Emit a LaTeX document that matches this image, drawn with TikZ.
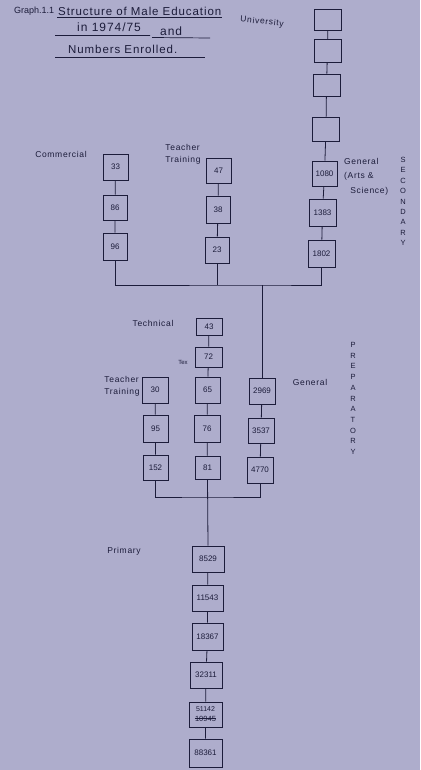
\documentclass[tikz,border=0pt]{standalone}
\usepackage{fontspec}
\setmainfont{Liberation Sans}
\newfontfamily\hand[LetterSpace=8]{Liberation Sans}
\definecolor{paper}{RGB}{174,173,204}
\definecolor{ink}{RGB}{28,28,58}
\tikzset{
  bx/.style={draw=ink, line width=0.9pt, inner sep=0pt, text=ink, font=\fontsize{8}{9}\selectfont},
  lnk/.style={draw=ink, line width=0.8pt},
  lbl/.style={text=ink, inner sep=0pt, font=\hand\fontsize{8.5}{12}\selectfont, align=left},
  ttl/.style={text=ink, inner sep=0pt, anchor=west, font=\hand\fontsize{11.5}{13}\selectfont},
  vlet/.style={text=ink, inner sep=0pt, font=\fontsize{7.5}{8}\selectfont},
}
\newcommand{\bxat}[5]{\node[bx, minimum width=#3pt, minimum height=#4pt] (#1) at (#2) {#5};}
\begin{document}
\begin{tikzpicture}[x=1pt,y=-1pt]
\fill[paper] (0,0) rectangle (420,770);
\useasboundingbox (0,0) rectangle (420,770);

% title
\node[ttl, font=\fontsize{9}{10}\selectfont] (tg) at (14,11) {Graph.1.1};
\node[ttl] (t1) at (58,11) {Structure of Male Education};
\node[ttl, font=\hand\fontsize{12}{14}\selectfont] (t2) at (77,27.5) {in 1974/75};
\node[ttl, font=\hand\fontsize{12}{14}\selectfont] (t3) at (160,31) {and};
\node[ttl] (t4) at (68,49.5) {Numbers Enrolled.};
\draw[ink, line width=0.7pt] (57,17.5) -- (222,17.5);
\draw[ink, line width=0.7pt] (55,35.5) -- (150,35.5) (152,37.5) -- (210,38);
\draw[ink, line width=0.7pt] (55,57) -- (205,57);

% University / General column
\bxat{u1}{328,20}{27}{21}{}
\bxat{u2}{327.5,51}{27}{23}{}
\bxat{u3}{326.5,85}{27}{22}{}
\bxat{u4}{326,129}{27}{24}{}
\bxat{g1}{324.5,173.5}{25}{25}{1080}
\bxat{g2}{322.5,212.5}{27}{27}{1383}
\bxat{g3}{321.5,253.5}{27}{27}{1802}
% Commercial
\bxat{c1}{115.5,167}{25}{26}{33}
\bxat{c2}{115,207.5}{24}{25}{86}
\bxat{c3}{115,246.5}{24}{27}{96}
% Teacher training (secondary)
\bxat{s1}{218.5,170.5}{25}{25}{47}
\bxat{s2}{218,209.5}{24}{27}{38}
\bxat{s3}{217,250}{24}{26}{23}
% Technical
\bxat{k1}{209,326.5}{26}{17}{43}
\bxat{k2}{208.5,357}{27}{20}{72}
\bxat{k3}{207.5,390}{25}{26}{65}
\bxat{k4}{207,428.5}{26}{27}{76}
\bxat{k5}{207.5,467.5}{25}{23}{81}
% Teacher training (preparatory)
\bxat{p1}{155,390}{26}{26}{30}
\bxat{p2}{155.5,428.5}{25}{27}{95}
\bxat{p3}{155.5,467.5}{25}{25}{152}
% General (preparatory)
\bxat{q1}{262,391}{26}{26}{2969}
\bxat{q2}{261,430.5}{26}{25}{3537}
\bxat{q3}{260,470}{26}{26}{4770}
% Primary
\bxat{r1}{208,559}{32}{26}{8529}
\bxat{r2}{207.5,598}{31}{26}{11543}
\bxat{r3}{207.5,636.5}{31}{27}{18367}
\bxat{r4}{206,675}{32}{26}{32311}
\bxat{r5}{205.5,714.5}{33}{25}{}
\bxat{r6}{205.5,753}{33}{28}{88361}
\node[text=ink, inner sep=0pt, font=\fontsize{7}{8}\selectfont] (r5a) at (205.5,709) {51142};
\node[text=ink, inner sep=0pt, font=\fontsize{7.5}{8}\selectfont] (r5b) at (205.5,718.5) {10945};
\draw[ink, line width=1.6pt] (r5b.west) -- (r5b.east);

% chains
\draw[lnk] (u1) -- (u2) -- (u3) -- (u4) -- (g1) -- (g2) -- (g3);
\draw[lnk] (c1) -- (c2) -- (c3);
\draw[lnk] (s1) -- (s2) -- (s3);
\draw[lnk] (k1) -- (k2) -- (k3) -- (k4) -- (k5);
\draw[lnk] (p1) -- (p2) -- (p3);
\draw[lnk] (q1) -- (q2) -- (q3);
\draw[lnk] (r1) -- (r2) -- (r3) -- (r4) -- (r5) -- (r6);

% junctions
\coordinate (j1) at (262,285);
\coordinate (j2) at (207.5,497);
\draw[lnk] (c3.south) |- (j1) -| (g3.south);
\draw[lnk] (s3.south) -- (s3.south |- j1);
\draw[lnk] (j1) -- (q1.north);
\draw[lnk] (p3.south) |- (j2) -| (q3.south);
\draw[lnk] (k5.south) -- (r1.north);

% labels
\node[lbl, rotate=-6] (lu) at (262,22) {University};
\node[lbl] (lc) at (61,154) {Commercial};
\node[lbl] (ls) at (183,154) {Teacher\\Training};
\node[lbl, anchor=north west, font=\hand\fontsize{8.5}{14.5}\selectfont] (lg) at (344,158) {General\\(Arts \&\\\ \ Science)};
\node[lbl] (lk) at (153,323) {Technical};
\node[text=ink, inner sep=0pt, font=\fontsize{6}{7}\selectfont] (lx) at (183,362) {Tex};
\node[lbl] (lp) at (122,386) {Teacher\\Training};
\node[lbl] (lq) at (310,382) {General};
\node[lbl] (lr) at (124,551) {Primary};

% vertical words
\foreach \ch [count=\i from 0] in {S,E,C,O,N,D,A,R,Y}
  \node[vlet] (sec\i) at (403,160+\i*10.4) {\ch};
\foreach \ch [count=\i from 0] in {P,R,E,P,A,R,A,T,O,R,Y}
  \node[vlet] (pre\i) at (353,345+\i*10.7) {\ch};
\end{tikzpicture}
\end{document}
